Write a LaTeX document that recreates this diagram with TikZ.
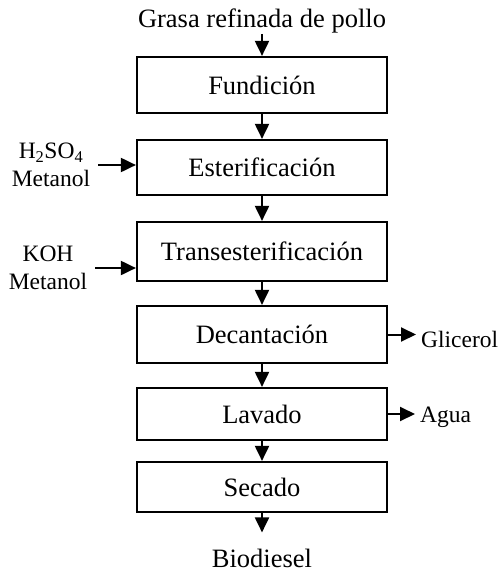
\documentclass[tikz,border=0pt]{standalone}
\usepackage{fontspec}
\setmainfont{Liberation Serif}
\usetikzlibrary{arrows.meta}

\begin{document}
\begin{tikzpicture}[x=1pt, y=-1pt, font=\fontsize{26.5}{28}\selectfont]
        \tikzstyle{boxStyle} = [rectangle, draw=black, line width=2.2pt, minimum width=250pt, inner sep=0pt]
        \tikzstyle{textStyle} = [inner sep=1pt]
        \tikzstyle{inStyle} = [align=center, inner xsep=8pt, inner ysep=1pt, font=\fontsize{23.5}{28}\selectfont]
        \tikzstyle{outStyle} = [inner xsep=5pt, inner ysep=1pt, font=\fontsize{23.5}{28}\selectfont]
        \tikzstyle{flowArrow} = [draw=black, line width=2pt, -{Triangle[width=14pt,length=15pt]}]
        \useasboundingbox (0,0) rectangle (501,573);
        \node[textStyle, anchor=base] (grasa) at (262,27) {Grasa refinada de pollo};
        \node[boxStyle, minimum height=56pt] (fund) at (262,85) {Fundición};
        \node[boxStyle, minimum height=55pt] (ester) at (262,167.5) {Esterificación};
        \node[boxStyle, minimum height=59pt] (trans) at (262,251.5) {Transesterificación};
        \node[boxStyle, minimum height=57pt] (decant) at (262,334.5) {Decantación};
        \node[boxStyle, minimum height=52pt] (lavado) at (262,414) {Lavado};
        \node[boxStyle, minimum height=50pt] (secado) at (262,487) {Secado};
        \node[textStyle, anchor=base] (bio) at (262,567) {Biodiesel};
        % entradas y salidas laterales
        \node[inStyle] (in1) at (51,165) {H\textsubscript{2}SO\textsubscript{4}\\Metanol};
        \node[inStyle] (in2) at (48,268) {KOH\\Metanol};
        \node[outStyle, anchor=west] (glicerol) at (416,339) {Glicerol};
        \node[outStyle, anchor=west] (agua) at (415,417) {Agua};
        \foreach \from/\to in {grasa/fund,fund/ester,ester/trans,trans/decant,
                               decant/lavado,lavado/secado}
            \path[flowArrow] (\from) edge (\to);
        \path[flowArrow] (secado) edge[shorten >=15pt] (bio);
        \draw[flowArrow] (in1.east) -- (in1.east -| ester.west);
        \draw[flowArrow] (in2.east) -- (in2.east -| trans.west);
        \draw[flowArrow] (decant.east) -- (decant.east -| glicerol.west);
        \draw[flowArrow] (lavado.east) -- (lavado.east -| agua.west);
    \end{tikzpicture}
\end{document}
